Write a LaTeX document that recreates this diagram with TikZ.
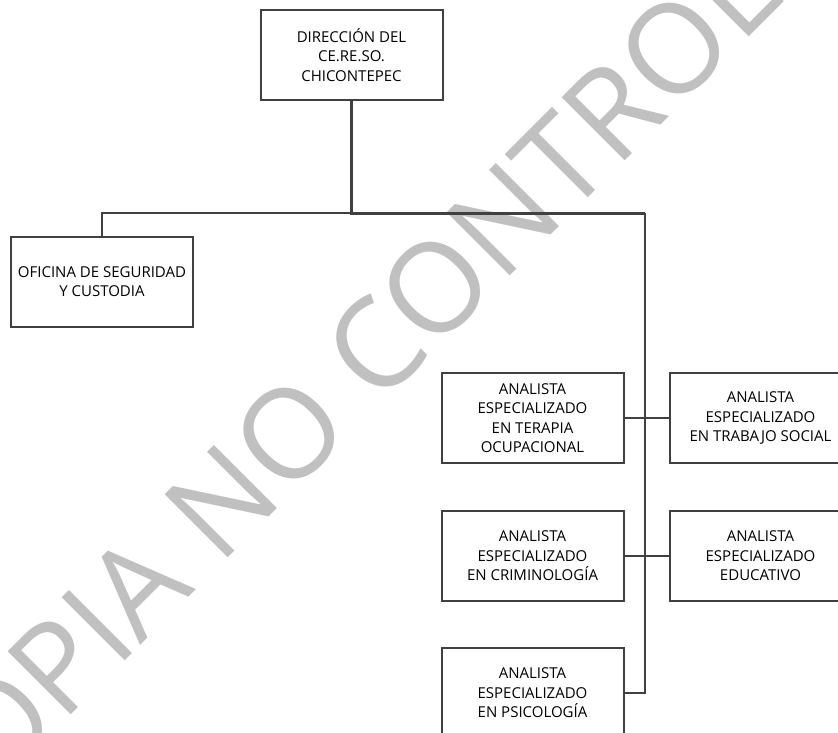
\documentclass[tikz,border=0pt]{standalone}
\usepackage{fontspec}
\setmainfont{Open Sans}
\usetikzlibrary{positioning}
\definecolor{linegray}{RGB}{64,64,64}
\definecolor{markgray}{RGB}{192,192,192}
\tikzset{
  box/.style={draw=linegray, line width=2pt, rectangle, minimum width=182pt, minimum height=90pt, inner sep=0pt, align=center, font=\fontsize{15}{19.5}\selectfont},
  conn/.style={draw=linegray, line width=2.2pt},
  trunk/.style={conn, line width=3pt},
  watermark/.style={text=markgray, rotate=45, inner sep=0pt, anchor=base west, font=\fontsize{125}{125}\selectfont},
}

\begin{document}
\begin{tikzpicture}[x=1pt, y=-1pt, node distance=46pt and 44pt]
  \useasboundingbox (0,0) rectangle (838,732);
  \node[watermark] (wm) at (-60,846) {COPIA NO CONTROLADA};
  \node[box] (dir) at (351.5,55) {DIRECCIÓN DEL\\CE.RE.SO.\\CHICONTEPEC};
  \node[box] (ofi) at (102,281.5) {OFICINA DE SEGURIDAD\\Y CUSTODIA};
  \node[box] (ter) at (532.5,418) {ANALISTA\\ESPECIALIZADO\\EN TERAPIA\\OCUPACIONAL};
  \node[box, right=of ter] (tra) {ANALISTA\\ESPECIALIZADO\\EN TRABAJO SOCIAL};
  \node[box, below=of ter] (cri) {ANALISTA\\ESPECIALIZADO\\EN CRIMINOLOGÍA};
  \node[box, right=of cri] (edu) {ANALISTA\\ESPECIALIZADO\\EDUCATIVO};
  \node[box, below=45pt of cri] (psi) {ANALISTA\\ESPECIALIZADO\\EN PSICOLOGÍA};
  \coordinate (bus) at (351.5,213);
  \coordinate (tr) at (645,213);
  \draw[trunk] (dir.south) |- (tr);
  \draw[conn] (ofi.north) |- (bus);
  \draw[conn] (tr) |- (psi.east);
  \draw[conn] (ter.east) -- (tra.west);
  \draw[conn] (cri.east) -- (edu.west);
\end{tikzpicture}
\end{document}
